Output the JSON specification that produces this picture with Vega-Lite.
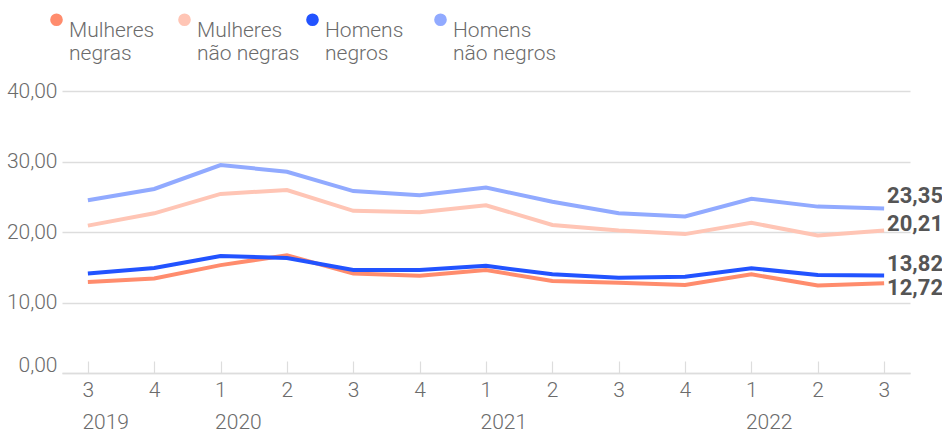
{
  "$schema": "https://vega.github.io/schema/vega-lite/v6.json",
  "width": 848,
  "height": 282,
  "autosize": {"type": "none"},
  "padding": {"left": 62, "top": 91, "right": 32, "bottom": 60},
  "data": {
    "values": [
      {"periodo": "2019-3", "serie": "Mulheres negras", "valor": 12.9},
      {"periodo": "2019-4", "serie": "Mulheres negras", "valor": 13.4},
      {"periodo": "2020-1", "serie": "Mulheres negras", "valor": 15.3},
      {"periodo": "2020-2", "serie": "Mulheres negras", "valor": 16.7},
      {"periodo": "2020-3", "serie": "Mulheres negras", "valor": 14.1},
      {"periodo": "2020-4", "serie": "Mulheres negras", "valor": 13.8},
      {"periodo": "2021-1", "serie": "Mulheres negras", "valor": 14.6},
      {"periodo": "2021-2", "serie": "Mulheres negras", "valor": 13.05},
      {"periodo": "2021-3", "serie": "Mulheres negras", "valor": 12.8},
      {"periodo": "2021-4", "serie": "Mulheres negras", "valor": 12.5},
      {"periodo": "2022-1", "serie": "Mulheres negras", "valor": 14.0},
      {"periodo": "2022-2", "serie": "Mulheres negras", "valor": 12.4},
      {"periodo": "2022-3", "serie": "Mulheres negras", "valor": 12.72},
      {"periodo": "2019-3", "serie": "Mulheres não negras", "valor": 20.9},
      {"periodo": "2019-4", "serie": "Mulheres não negras", "valor": 22.65},
      {"periodo": "2020-1", "serie": "Mulheres não negras", "valor": 25.4},
      {"periodo": "2020-2", "serie": "Mulheres não negras", "valor": 25.95},
      {"periodo": "2020-3", "serie": "Mulheres não negras", "valor": 23.0},
      {"periodo": "2020-4", "serie": "Mulheres não negras", "valor": 22.8},
      {"periodo": "2021-1", "serie": "Mulheres não negras", "valor": 23.8},
      {"periodo": "2021-2", "serie": "Mulheres não negras", "valor": 21.0},
      {"periodo": "2021-3", "serie": "Mulheres não negras", "valor": 20.2},
      {"periodo": "2021-4", "serie": "Mulheres não negras", "valor": 19.7},
      {"periodo": "2022-1", "serie": "Mulheres não negras", "valor": 21.3},
      {"periodo": "2022-2", "serie": "Mulheres não negras", "valor": 19.5},
      {"periodo": "2022-3", "serie": "Mulheres não negras", "valor": 20.21},
      {"periodo": "2019-3", "serie": "Homens negros", "valor": 14.1},
      {"periodo": "2019-4", "serie": "Homens negros", "valor": 14.9},
      {"periodo": "2020-1", "serie": "Homens negros", "valor": 16.6},
      {"periodo": "2020-2", "serie": "Homens negros", "valor": 16.3},
      {"periodo": "2020-3", "serie": "Homens negros", "valor": 14.6},
      {"periodo": "2020-4", "serie": "Homens negros", "valor": 14.6},
      {"periodo": "2021-1", "serie": "Homens negros", "valor": 15.2},
      {"periodo": "2021-2", "serie": "Homens negros", "valor": 14.0},
      {"periodo": "2021-3", "serie": "Homens negros", "valor": 13.5},
      {"periodo": "2021-4", "serie": "Homens negros", "valor": 13.66},
      {"periodo": "2022-1", "serie": "Homens negros", "valor": 14.85},
      {"periodo": "2022-2", "serie": "Homens negros", "valor": 13.9},
      {"periodo": "2022-3", "serie": "Homens negros", "valor": 13.82},
      {"periodo": "2019-3", "serie": "Homens não negros", "valor": 24.5},
      {"periodo": "2019-4", "serie": "Homens não negros", "valor": 26.1},
      {"periodo": "2020-1", "serie": "Homens não negros", "valor": 29.5},
      {"periodo": "2020-2", "serie": "Homens não negros", "valor": 28.55},
      {"periodo": "2020-3", "serie": "Homens não negros", "valor": 25.8},
      {"periodo": "2020-4", "serie": "Homens não negros", "valor": 25.2},
      {"periodo": "2021-1", "serie": "Homens não negros", "valor": 26.3},
      {"periodo": "2021-2", "serie": "Homens não negros", "valor": 24.3},
      {"periodo": "2021-3", "serie": "Homens não negros", "valor": 22.65},
      {"periodo": "2021-4", "serie": "Homens não negros", "valor": 22.2},
      {"periodo": "2022-1", "serie": "Homens não negros", "valor": 24.7},
      {"periodo": "2022-2", "serie": "Homens não negros", "valor": 23.6},
      {"periodo": "2022-3", "serie": "Homens não negros", "valor": 23.35}
    ]
  },
  "encoding": {
    "x": {
      "field": "periodo",
      "type": "ordinal",
      "sort": null,
      "scale": {"type": "point", "padding": 0.39},
      "axis": {
        "title": null,
        "labelAngle": 0,
        "labelAlign": "left",
        "labelOffset": -6,
        "labelBaseline": "top",
        "labelPadding": 18,
        "labelLineHeight": 32,
        "labelExpr": "[split(datum.value,'-')[1], (split(datum.value,'-')[1]=='1' || datum.value=='2019-3') ? split(datum.value,'-')[0] : '']",
        "domain": true,
        "domainColor": "#dddddd",
        "domainWidth": 1.5,
        "ticks": true,
        "tickColor": "#dddddd",
        "tickSize": -12,
        "tickWidth": 1.2,
        "grid": false
      }
    },
    "y": {
      "field": "valor",
      "type": "quantitative",
      "scale": {"domain": [0, 40], "nice": false},
      "axis": {
        "title": null,
        "values": [0, 10, 20, 30, 40],
        "format": ".2f",
        "domain": false,
        "ticks": false,
        "grid": true,
        "gridColor": "#dddddd",
        "gridWidth": 1.5,
        "labelPadding": 5,
        "labelOffset": {"condition": {"test": "datum.value == 0", "value": -8}, "value": 0}
      }
    }
  },
  "layer": [
    {
      "mark": {"type": "point", "filled": true, "size": 0, "opacity": 1},
      "encoding": {
        "color": {
          "field": "serie",
          "type": "nominal",
          "scale": {
            "domain": ["Mulheres negras", "Mulheres não negras", "Homens negros", "Homens não negros"],
            "range": ["#ff8c6d", "#ffc5b5", "#2253ff", "#91aaff"]
          },
          "legend": {
            "title": null,
            "orient": "none",
            "legendX": -16,
            "legendY": -82,
            "direction": "horizontal",
            "columns": 4,
            "gridAlign": "all",
            "symbolType": "circle",
            "symbolSize": 160,
            "symbolStrokeWidth": 0,
            "symbolOpacity": 1,
            "labelFontSize": 21,
            "labelFontWeight": 300,
            "labelColor": "#6b6b6b",
            "labelLineHeight": 25,
            "labelBaseline": "top",
            "labelOffset": 2,
            "columnPadding": 1,
            "labelExpr": "[split(datum.label,' ')[0], slice(datum.label, indexof(datum.label,' ')+1)]"
          }
        }
      }
    },
    {
      "mark": {"type": "line", "strokeWidth": 4},
      "encoding": {
        "color": {"field": "serie", "type": "nominal"}
      }
    },
    {
      "transform": [{"filter": "datum.periodo == '2022-3' && indexof(datum.serie, 'Homens') == 0"}],
      "mark": {"type": "text", "align": "left", "baseline": "middle", "dx": 3, "dy": -12, "fontSize": 22, "fontWeight": "bold", "color": "#555555"},
      "encoding": {"text": {"field": "valor", "type": "quantitative", "format": ".2f"}}
    },
    {
      "transform": [{"filter": "datum.periodo == '2022-3' && datum.serie == 'Mulheres não negras'"}],
      "mark": {"type": "text", "align": "left", "baseline": "middle", "dx": 3, "dy": -7, "fontSize": 22, "fontWeight": "bold", "color": "#555555"},
      "encoding": {"text": {"field": "valor", "type": "quantitative", "format": ".2f"}}
    },
    {
      "transform": [{"filter": "datum.periodo == '2022-3' && datum.serie == 'Mulheres negras'"}],
      "mark": {"type": "text", "align": "left", "baseline": "middle", "dx": 3, "dy": 5, "fontSize": 22, "fontWeight": "bold", "color": "#555555"},
      "encoding": {"text": {"field": "valor", "type": "quantitative", "format": ".2f"}}
    }
  ],
  "config": {
    "locale": {"number": {"decimal": ",", "thousands": ".", "grouping": [3], "currency": ["R$", ""]}},
    "view": {"stroke": null},
    "font": "Roboto",
    "axis": {"labelFontSize": 21, "labelColor": "#6b6b6b", "labelFontWeight": 300}
  }
}
